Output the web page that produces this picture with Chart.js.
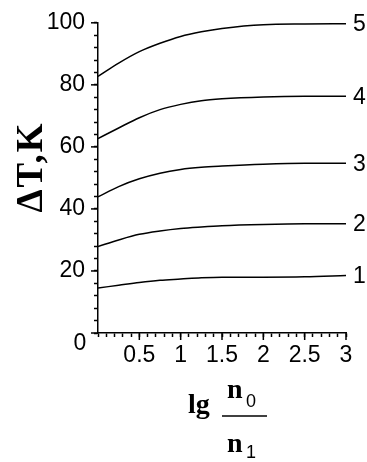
<!DOCTYPE html>
<html lang="en">
<head>
<meta charset="UTF-8">
<script src="https://cdn.jsdelivr.net/npm/chart.js"></script>
<title>dT vs lg n0/n1</title>
<style>
  html, body { margin: 0; padding: 0; background: #fff; }
</style>
</head>
<body>
<canvas id="chart" width="367" height="462"></canvas>
<script>
// values
const xs = [0, 0.25, 0.5, 0.75, 1, 1.25, 1.5, 2, 2.5, 3];
const curve1 = [14.5, 15.4, 16.3, 17.0, 17.4, 17.8, 18.0, 18.0, 18.1, 18.5];
const curve2 = [27.9, 30.0, 31.8, 32.9, 33.7, 34.2, 34.6, 35.0, 35.2, 35.2];
const curve3 = [43.9, 47.2, 49.7, 51.5, 52.7, 53.4, 53.8, 54.4, 54.7, 54.7];
const curve4 = [62.7, 66.1, 69.4, 72.0, 73.7, 74.9, 75.5, 76.1, 76.3, 76.3];
const curve5 = [82.7, 87.0, 90.7, 93.4, 95.6, 97.1, 98.2, 99.4, 99.6, 99.7];
const curveNames = ['1', '2', '3', '4', '5'];
const yMajor = [0, 20, 40, 60, 80, 100];
const xMajor = [0.5, 1, 1.5, 2, 2.5, 3];

const tickFont = { family: "'Liberation Sans Narrow', 'Liberation Sans', sans-serif", size: 23 };
const tickFontCss = "23px 'Liberation Sans Narrow', 'Liberation Sans', sans-serif";

function pts(ys) {
    return xs.map((x, i) => ({ x: x, y: ys[i] }));
}

const extras = {
    id: 'extras',
    afterDraw(chart) {
        const ctx = chart.ctx;
        const area = chart.chartArea;
        const x = chart.scales.x;
        const y = chart.scales.y;
        ctx.save();
        ctx.strokeStyle = '#000';
        ctx.fillStyle = '#000';
        ctx.lineWidth = 1.5;

        // longer major ticks
        yMajor.forEach(v => {
            let py = y.getPixelForValue(v);
            ctx.beginPath();
            ctx.moveTo(area.left - 7, py);
            ctx.lineTo(area.left, py);
            ctx.stroke();
        });
        xMajor.forEach(v => {
            let px = x.getPixelForValue(v);
            ctx.beginPath();
            ctx.moveTo(px, area.bottom);
            ctx.lineTo(px, area.bottom + 7);
            ctx.stroke();
        });

        // curve numbers at the right end
        ctx.font = tickFontCss;
        ctx.textAlign = 'left';
        ctx.textBaseline = 'middle';
        chart.data.datasets.forEach((ds, i) => {
            let meta = chart.getDatasetMeta(i);
            let last = meta.data[meta.data.length - 1];
            ctx.fillText(curveNames[i], last.x + 7, last.y + 1);
        });

        // origin label
        ctx.textAlign = 'center';
        ctx.fillText('0', area.left - 18, area.bottom + 11);

        // y title
        ctx.save();
        ctx.translate(42, 167);
        ctx.rotate(-Math.PI / 2);
        ctx.font = "bold 37px 'Liberation Serif', serif";
        ctx.letterSpacing = '2px';
        ctx.textAlign = 'center';
        ctx.textBaseline = 'alphabetic';
        ctx.fillText('ΔT,K', 0, 0);
        ctx.restore();

        // x title: lg n0/n1
        let cx = (area.left + area.right) / 2;
        let b = area.bottom;
        ctx.textAlign = 'left';
        ctx.textBaseline = 'alphabetic';
        ctx.font = "bold 28px 'Liberation Serif', serif";
        ctx.fillText('lg', cx - 34, b + 80);
        ctx.fillText('n', cx + 5, b + 65);
        ctx.fillText('n', cx + 5, b + 119);
        ctx.font = "18px 'Liberation Sans', sans-serif";
        ctx.fillText('0', cx + 24, b + 74);
        ctx.fillText('1', cx + 24, b + 125);
        ctx.lineWidth = 1.5;
        ctx.beginPath();
        ctx.moveTo(cx, b + 83);
        ctx.lineTo(cx + 45, b + 83);
        ctx.stroke();
        ctx.restore();
    }
};

const series = [curve1, curve2, curve3, curve4, curve5];

new Chart(document.getElementById('chart').getContext('2d'), {
    type: 'line',
    data: {
        datasets: series.map((s, i) => ({
            label: curveNames[i],
            data: pts(s),
            borderColor: '#000',
            borderWidth: 1.5,
            pointRadius: 0,
            fill: false,
            cubicInterpolationMode: 'monotone'
        }))
    },
    options: {
        responsive: false,
        animation: false,
        layout: { padding: { left: 0, top: 21, right: 21, bottom: 0 } },
        plugins: {
            legend: { display: false },
            tooltip: { enabled: false }
        },
        scales: {
            x: {
                type: 'linear',
                min: 0,
                max: 3,
                afterFit: s => { s.height = 129; },
                grid: { drawOnChartArea: false, tickLength: 4, tickColor: '#000', tickWidth: 1.5 },
                border: { color: '#000', width: 1.5 },
                ticks: {
                    stepSize: 0.1,
                    autoSkip: false,
                    maxRotation: 0,
                    color: '#000',
                    font: tickFont,
                    padding: 5,
                    callback: v => {
                        let t = Math.round(v * 10);
                        return (t > 0 && t % 5 === 0) ? String(t / 10) : '';
                    }
                }
            },
            y: {
                min: 0,
                max: 100,
                afterFit: s => { s.width = 98; },
                grid: { drawOnChartArea: false, tickLength: 4, tickColor: '#000', tickWidth: 1.5 },
                border: { color: '#000', width: 1.5 },
                ticks: {
                    stepSize: 4,
                    autoSkip: false,
                    color: '#000',
                    font: tickFont,
                    padding: 9,
                    callback: v => (v > 0 && v % 20 === 0) ? String(v) : ''
                }
            }
        }
    },
    plugins: [extras]
});
</script>
</body>
</html>
